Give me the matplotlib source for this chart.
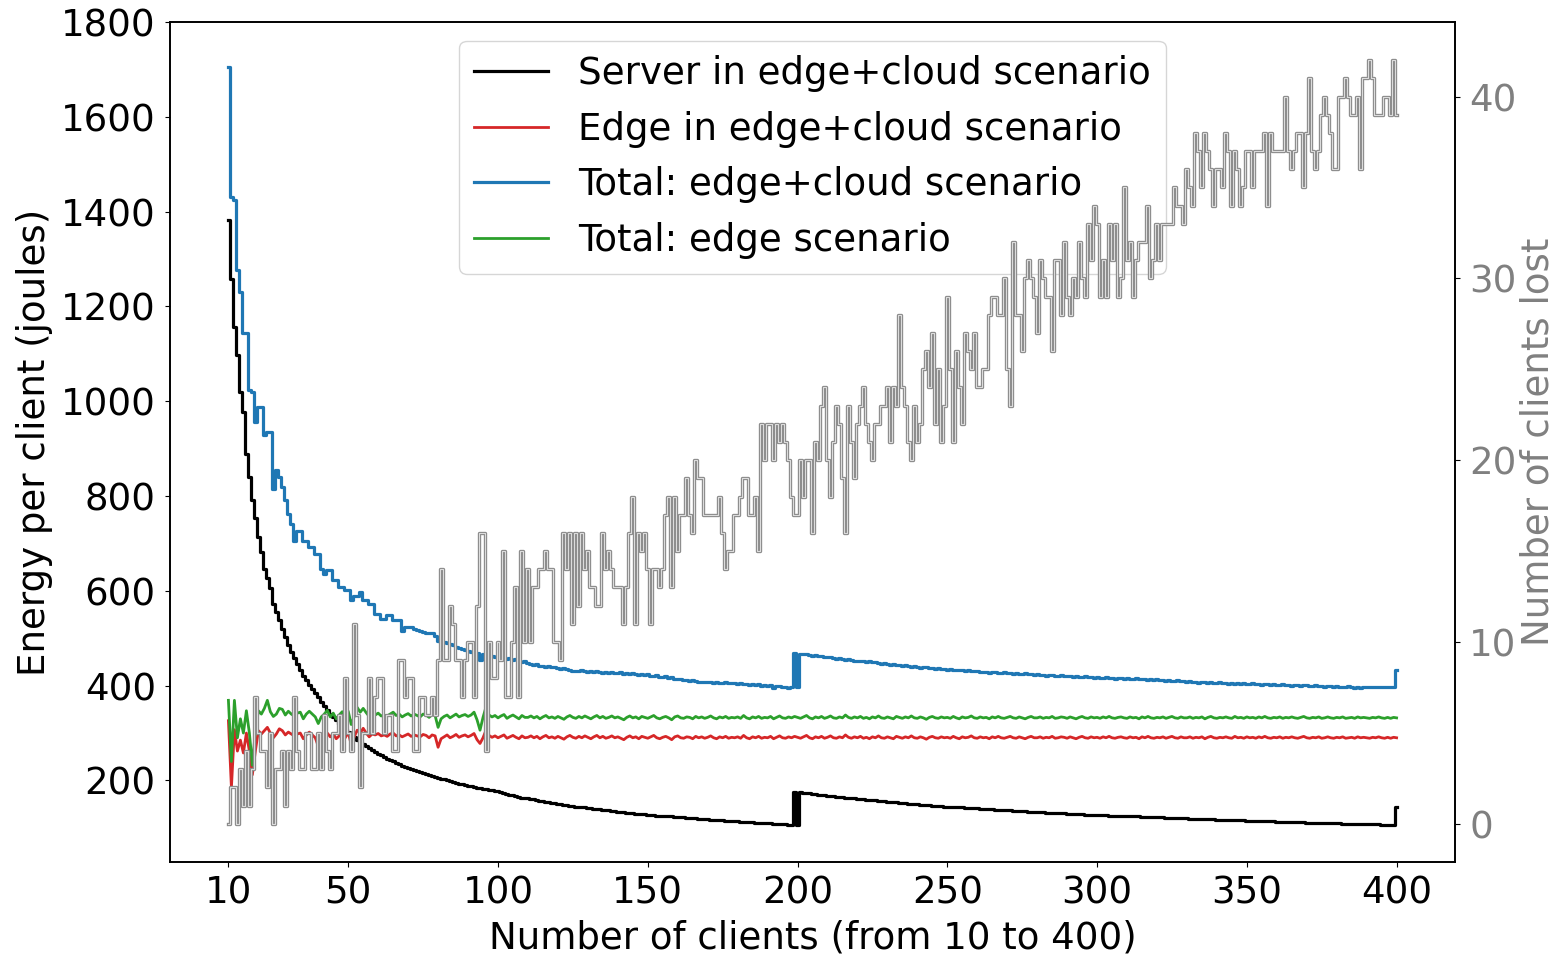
import numpy as np
import matplotlib.pyplot as plt
import matplotlib.patheffects as pe

clients = np.arange(10, 401)

# energy used by the server in the edge+cloud scenario (joules per client)
server_edge_cloud = [
    1382, 1257, 1157, 1097, 1019, 977, 889, 840, 791, 753,
    713, 682, 645, 628, 605, 572, 555, 538, 520, 503,
    486, 472, 458, 446, 433, 421, 411, 401, 392, 384,
    375, 366, 357, 349, 341, 334, 327, 320, 314, 308,
    302, 296, 291, 286, 281, 277, 272, 268, 264, 260,
    256, 253, 249, 246, 243, 240, 237, 234, 231, 229,
    226, 224, 221, 219, 217, 215, 213, 211, 209, 207,
    205, 203, 202, 200, 198, 197, 195, 193, 192, 191,
    189, 188, 186, 185, 184, 183, 181, 180, 179, 178,
    177, 175, 173, 172, 170, 169, 167, 166, 164, 163,
    162, 161, 160, 158, 157, 156, 155, 154, 153, 152,
    151, 150, 149, 148, 147, 146, 145, 144, 143, 143,
    142, 141, 140, 140, 139, 138, 137, 137, 136, 135,
    134, 134, 133, 132, 132, 131, 130, 130, 129, 129,
    128, 127, 127, 126, 126, 125, 125, 124, 124, 123,
    123, 122, 122, 121, 121, 120, 120, 119, 119, 118,
    118, 117, 117, 116, 116, 116, 115, 115, 114, 114,
    114, 113, 113, 112, 112, 112, 111, 111, 111, 110,
    110, 110, 109, 109, 108, 108, 108, 107, 107, 176,
    106, 175, 174, 173, 173, 172, 171, 170, 170, 169,
    168, 167, 167, 166, 165, 165, 164, 163, 163, 162,
    161, 161, 160, 159, 159, 158, 158, 157, 156, 156,
    155, 155, 154, 154, 153, 152, 152, 151, 151, 150,
    150, 149, 149, 148, 148, 147, 147, 146, 146, 145,
    145, 144, 144, 144, 143, 143, 142, 142, 141, 141,
    141, 140, 140, 139, 139, 139, 138, 138, 138, 137,
    137, 137, 136, 136, 135, 135, 135, 134, 134, 134,
    133, 133, 133, 132, 132, 132, 132, 131, 131, 131,
    130, 130, 130, 129, 129, 129, 128, 128, 128, 128,
    127, 127, 127, 127, 126, 126, 126, 125, 125, 125,
    125, 124, 124, 124, 124, 123, 123, 123, 123, 122,
    122, 122, 122, 121, 121, 121, 121, 120, 120, 120,
    120, 119, 119, 119, 119, 119, 118, 118, 118, 118,
    117, 117, 117, 117, 117, 116, 116, 116, 116, 116,
    115, 115, 115, 115, 115, 114, 114, 114, 114, 114,
    113, 113, 113, 113, 113, 112, 112, 112, 112, 112,
    111, 111, 111, 111, 111, 111, 110, 110, 110, 110,
    110, 110, 109, 109, 109, 109, 109, 109, 108, 108,
    108, 108, 108, 108, 108, 107, 107, 107, 107, 107,
    143,
]

# energy used by the edge in the edge+cloud scenario
edge_edge_cloud = [
    326, 185, 307, 262, 285, 258, 300, 262, 212, 262,
    305, 298, 305, 312, 300, 290, 298, 309, 305, 296,
    302, 298, 294, 298, 300, 288, 296, 302, 296, 290,
    272, 290, 296, 300, 292, 298, 288, 294, 300, 290,
    302, 275, 292, 306, 300, 310, 300, 292, 298, 296,
    299, 294, 296, 293, 298, 300, 294, 296, 292, 295,
    298, 293, 296, 294, 292, 297, 295, 290, 296, 294,
    270, 288, 292, 296, 290, 293, 297, 291, 294, 296,
    292, 295, 299, 286, 278, 290, 306, 295, 291, 294,
    290, 293, 296, 289, 292, 295, 291, 288, 294, 290,
    291, 294, 290, 293, 288, 292, 295, 290, 292, 289,
    293, 290, 287, 292, 295, 291, 289, 293, 290, 294,
    291, 288, 292, 295, 290, 293, 289, 291, 294, 290,
    292, 289, 286, 291, 294, 290, 292, 288, 293, 291,
    289, 292, 295, 290, 288, 291, 293, 290, 286, 292,
    294, 290, 289, 292, 291, 288, 293, 290, 292, 289,
    291, 294, 290, 288, 292, 290, 293, 289, 291, 290,
    292, 289, 295, 290, 288, 292, 290, 293, 289, 291,
    290, 293, 288, 291, 294, 290, 289, 292, 290, 293,
    291, 289, 292, 295, 290, 288, 292, 290, 293, 289,
    291, 294, 290, 289, 292, 290, 296, 291, 289, 292,
    290, 293, 289, 291, 288, 292, 290, 294, 290, 289,
    292, 290, 288, 293, 291, 289, 292, 290, 294, 290,
    289, 292, 290, 287, 291, 293, 290, 289, 292, 290,
    291, 289, 293, 290, 288, 292, 290, 291, 294, 290,
    289, 292, 290, 291, 288, 292, 290, 293, 290, 289,
    291, 293, 290, 289, 292, 290, 288, 291, 293, 290,
    290, 292, 289, 291, 290, 293, 289, 290, 292, 291,
    289, 292, 290, 288, 291, 293, 290, 289, 292, 290,
    291, 289, 292, 290, 293, 290, 289, 291, 292, 290,
    289, 292, 290, 291, 288, 292, 290, 293, 290, 289,
    291, 290, 292, 289, 291, 293, 290, 289, 292, 290,
    290, 292, 289, 291, 290, 292, 288, 291, 293, 290,
    289, 291, 290, 292, 290, 289, 293, 290, 291, 289,
    292, 290, 291, 289, 292, 290, 293, 290, 289, 291,
    290, 292, 289, 291, 290, 292, 290, 289, 291, 293,
    290, 289, 291, 290, 292, 289, 290, 292, 290, 289,
    291, 290, 292, 289, 290, 291, 289, 292, 290, 291,
    290, 289, 291, 290, 292, 290, 289, 291, 289, 291,
    290,
]

# total energy in the edge+cloud scenario
total_edge_cloud = [
    1706, 1430, 1424, 1276, 1230, 1143, 1143, 1024, 1020, 956,
    988, 988, 928, 935, 935, 815, 855, 840, 819, 791,
    763, 742, 706, 727, 727, 706, 706, 692, 692, 678,
    678, 645, 636, 643, 643, 622, 622, 608, 608, 601,
    601, 580, 590, 590, 598, 580, 580, 573, 573, 552,
    552, 541, 541, 548, 548, 538, 538, 538, 516, 523,
    523, 523, 520, 518, 515, 514, 512, 510, 510, 505,
    495, 490, 492, 490, 488, 486, 482, 480, 478, 475,
    474, 472, 470, 468, 455, 466, 462, 465, 462, 460,
    460, 458, 462, 456, 458, 455, 457, 452, 450, 451,
    448, 446, 444, 445, 442, 441, 440, 442, 439, 440,
    438, 436, 437, 435, 432, 430, 431, 430, 432, 430,
    429, 431, 428, 430, 428, 427, 429, 426, 428, 427,
    426, 428, 425, 427, 424, 426, 425, 423, 425, 422,
    424, 421, 420, 422, 419, 418, 420, 417, 418, 415,
    414, 413, 412, 412, 410, 411, 409, 408, 407, 408,
    407, 408, 406, 407, 405, 406, 407, 405, 406, 405,
    404, 405, 403, 404, 402, 403, 401, 403, 400, 401,
    400, 402, 396, 400, 399, 397, 398, 396, 397, 468,
    397, 467, 466, 467, 465, 463, 464, 462, 463, 461,
    460, 461, 459, 457, 458, 456, 455, 456, 454, 453,
    452, 453, 451, 450, 451, 449, 450, 448, 446, 447,
    446, 444, 445, 443, 444, 442, 443, 441, 440, 442,
    440, 438, 439, 440, 437, 438, 436, 437, 435, 436,
    434, 435, 433, 434, 432, 433, 431, 432, 430, 431,
    430, 428, 429, 429, 427, 428, 428, 426, 427, 428,
    426, 427, 425, 426, 424, 425, 426, 424, 425, 423,
    424, 422, 423, 421, 422, 423, 421, 420, 422, 421,
    420, 421, 419, 420, 418, 419, 420, 418, 419, 417,
    418, 417, 416, 418, 416, 417, 415, 416, 417, 415,
    416, 414, 415, 416, 414, 413, 414, 412, 413, 412,
    413, 411, 412, 410, 411, 409, 410, 411, 409, 410,
    408, 409, 407, 408, 406, 407, 408, 406, 407, 405,
    406, 407, 405, 406, 404, 405, 404, 406, 404, 405,
    403, 404, 405, 403, 404, 402, 403, 404, 402, 403,
    402, 401, 403, 401, 402, 400, 401, 402, 400, 401,
    401, 399, 400, 401, 399, 400, 398, 399, 400, 398,
    399, 398, 397, 398, 399, 397, 396, 397, 396, 398,
    397, 397, 397, 397, 397, 397, 397, 397, 397, 397,
    433,
]

# total energy in the edge-only scenario
total_edge = [
    369, 240, 369, 290, 330, 300, 347, 300, 232, 305,
    347, 340, 352, 369, 345, 335, 340, 352, 350, 338,
    346, 340, 336, 342, 344, 330, 340, 346, 340, 334,
    320, 334, 340, 348, 334, 342, 330, 338, 345, 332,
    346, 318, 335, 354, 344, 352, 343, 335, 342, 338,
    342, 336, 338, 336, 340, 344, 337, 340, 334, 338,
    341, 336, 340, 337, 334, 340, 338, 333, 339, 337,
    312, 330, 335, 338, 332, 336, 340, 334, 337, 339,
    335, 338, 344, 328, 306, 333, 355, 338, 334, 337,
    332, 336, 339, 331, 335, 338, 334, 330, 337, 333,
    333, 336, 332, 335, 330, 334, 337, 332, 334, 331,
    335, 332, 329, 334, 337, 333, 331, 335, 332, 336,
    333, 330, 334, 337, 332, 335, 331, 333, 336, 332,
    334, 331, 328, 333, 336, 332, 334, 330, 335, 333,
    331, 334, 337, 332, 330, 333, 335, 332, 328, 334,
    336, 332, 331, 334, 333, 330, 335, 332, 334, 331,
    333, 336, 332, 330, 334, 332, 335, 331, 333, 332,
    334, 331, 337, 332, 330, 334, 332, 335, 331, 333,
    332, 335, 330, 333, 336, 332, 331, 334, 332, 335,
    333, 331, 334, 337, 332, 330, 334, 332, 335, 331,
    333, 336, 332, 331, 334, 332, 338, 333, 331, 334,
    332, 335, 331, 333, 330, 334, 332, 336, 332, 331,
    334, 332, 330, 335, 333, 331, 334, 332, 336, 332,
    331, 334, 332, 329, 333, 335, 332, 331, 334, 332,
    333, 331, 335, 332, 330, 334, 332, 333, 336, 332,
    331, 334, 332, 333, 330, 334, 332, 335, 332, 331,
    333, 335, 332, 331, 334, 332, 330, 333, 335, 332,
    332, 334, 331, 333, 332, 335, 331, 332, 334, 333,
    331, 334, 332, 330, 333, 335, 332, 331, 334, 332,
    333, 331, 334, 332, 335, 332, 331, 333, 334, 332,
    331, 334, 332, 333, 330, 334, 332, 335, 332, 331,
    333, 332, 334, 331, 333, 335, 332, 331, 334, 332,
    332, 334, 331, 333, 332, 334, 330, 333, 335, 332,
    331, 333, 332, 334, 332, 331, 335, 332, 333, 331,
    334, 332, 333, 331, 334, 332, 335, 332, 331, 333,
    332, 334, 331, 333, 332, 334, 332, 331, 333, 335,
    332, 331, 333, 332, 334, 331, 332, 334, 332, 331,
    333, 332, 334, 331, 332, 333, 331, 334, 332, 333,
    332, 331, 333, 332, 334, 332, 331, 333, 331, 333,
    332,
]

# clients lost (right axis)
clients_lost = [
    0, 2, 2, 0, 3, 1, 4, 1, 3, 7,
    5, 4, 4, 2, 5, 0, 3, 3, 4, 1,
    4, 3, 7, 4, 3, 3, 5, 5, 3, 3,
    5, 3, 6, 4, 3, 5, 5, 6, 4, 8,
    5, 4, 11, 6, 2, 5, 5, 8, 5, 7,
    8, 8, 5, 6, 6, 4, 4, 9, 9, 7,
    8, 8, 4, 4, 7, 7, 6, 6, 7, 6,
    9, 14, 9, 9, 12, 11, 9, 9, 7, 9,
    10, 10, 7, 12, 16, 16, 4, 10, 8, 8,
    10, 9, 15, 7, 7, 10, 13, 7, 15, 10,
    14, 10, 13, 13, 14, 14, 15, 14, 14, 10,
    10, 9, 16, 14, 16, 11, 16, 12, 16, 14,
    15, 13, 13, 12, 12, 16, 14, 15, 14, 13,
    13, 13, 11, 13, 16, 18, 11, 16, 15, 16,
    14, 11, 14, 14, 13, 14, 17, 18, 13, 18,
    15, 17, 17, 19, 17, 16, 20, 19, 19, 17,
    17, 17, 17, 17, 18, 16, 14, 15, 15, 17,
    17, 18, 19, 19, 17, 17, 18, 15, 22, 20,
    22, 22, 20, 22, 21, 22, 21, 20, 18, 17,
    17, 20, 18, 20, 20, 16, 21, 20, 23, 24,
    20, 18, 21, 23, 22, 19, 16, 23, 21, 19,
    22, 23, 24, 22, 21, 20, 22, 22, 23, 23,
    24, 21, 24, 23, 28, 24, 23, 21, 20, 23,
    21, 22, 25, 26, 24, 27, 22, 25, 21, 23,
    29, 25, 21, 26, 24, 22, 27, 26, 25, 27,
    24, 24, 25, 25, 28, 29, 29, 28, 28, 30,
    25, 23, 32, 28, 28, 26, 30, 31, 30, 29,
    27, 31, 30, 29, 29, 26, 31, 31, 28, 32,
    29, 28, 30, 29, 32, 30, 29, 33, 31, 34,
    33, 29, 31, 29, 33, 31, 33, 29, 30, 35,
    31, 32, 29, 31, 32, 32, 32, 34, 30, 31,
    33, 31, 33, 33, 33, 33, 35, 34, 34, 33,
    36, 35, 34, 38, 37, 35, 38, 37, 36, 34,
    36, 36, 35, 38, 37, 34, 37, 36, 34, 35,
    37, 37, 35, 37, 37, 37, 38, 34, 38, 37,
    37, 37, 37, 40, 37, 36, 37, 38, 38, 35,
    38, 41, 37, 36, 37, 39, 40, 39, 38, 36,
    36, 40, 40, 41, 40, 39, 39, 40, 36, 41,
    41, 42, 41, 39, 39, 39, 40, 40, 39, 42,
    39,
]

xticks = [10, 50, 100, 150, 200, 250, 300, 350, 400]

plt.rcParams['font.size'] = 26.7
plt.rcParams['axes.linewidth'] = 1.2
plt.rcParams['xtick.major.pad'] = 5.7
plt.rcParams['ytick.major.pad'] = 6.7

fig, ax1 = plt.subplots(figsize=(15.54, 9.55), dpi=100)
fig.subplots_adjust(left=0.1094, right=0.9363, top=0.977, bottom=0.0974)

lw = 2.3
ax1.step(clients, server_edge_cloud, where='mid', color='black', lw=lw,
         label='Server in edge+cloud scenario')
# edge curves are plain lines, not steps
ax1.plot(clients, edge_edge_cloud, color='tab:red', lw=2.0,
         label='Edge in edge+cloud scenario')
ax1.step(clients, total_edge_cloud, where='mid', color='tab:blue', lw=lw,
         label='Total: edge+cloud scenario')
ax1.plot(clients, total_edge, color='tab:green', lw=2.0,
         label='Total: edge scenario')

ax1.set_xlim(-9.5, 419.5)
ax1.set_ylim(28, 1800)
ax1.set_xticks(xticks)
ax1.set_xlabel('Number of clients (from 10 to 400)', labelpad=5.4)
ax1.set_ylabel('Energy per client (joules)', labelpad=5.8)
ax1.legend(loc='upper center')

# clients lost on the second axis, drawn as an outlined grey step line
ax2 = ax1.twinx()
ax2.step(clients, clients_lost, where='mid', color='#dcdcdc', lw=0.8,
         path_effects=[pe.Stroke(linewidth=2.4, foreground='#8a8a8a'), pe.Normal()])
ax2.set_ylim(-2.1, 44.1)
ax2.set_yticks([0, 10, 20, 30, 40])
ax2.set_ylabel('Number of clients lost', color='grey', labelpad=2.4)
ax2.tick_params(axis='y', labelcolor='grey')

fig.savefig('out.png', dpi=100)
